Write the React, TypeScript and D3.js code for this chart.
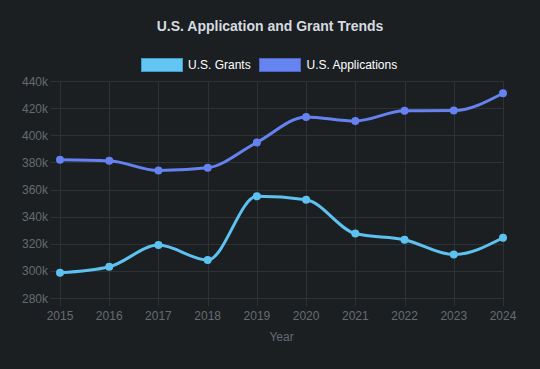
import * as d3 from "d3";

// data
const years = ["2015", "2016", "2017", "2018", "2019", "2020", "2021", "2022", "2023", "2024"];
const grants = [298.6, 303, 319, 308, 355, 352.5, 327.5, 323, 312, 324.4];
const applications = [382, 381.2, 374, 376, 394.7, 413.5, 410.5, 418, 418.2, 431];
const yTicks = [280, 300, 320, 340, 360, 380, 400, 420, 440];

const series = [
  { label: "U.S. Grants", values: grants, color: "#5ec2f0", fill: "#63c6f2", border: "#3f9ccb" },
  { label: "U.S. Applications", values: applications, color: "#6582f0", fill: "#6684f0", border: "#4a66c8" },
];

const W = 540;
const H = 369;
const margin = { top: 81, right: 37, bottom: 71, left: 60 };
const font = '"Helvetica Neue", Helvetica, Arial, sans-serif';

const App = () => {
  const x = d3
    .scalePoint()
    .domain(years)
    .range([margin.left, W - margin.right]);
  const y = d3
    .scaleLinear()
    .domain([280, 440])
    .range([H - margin.bottom, margin.top]);

  // monotone cubic, like chart.js cubicInterpolationMode: 'monotone'
  const line = d3
    .line<number>()
    .x((_, i) => x(years[i]) as number)
    .y((d) => y(d))
    .curve(d3.curveMonotoneX);

  const bottom = H - margin.bottom;

  return (
    <svg
      width={W}
      height={H}
      style={{ position: "absolute", left: 0, top: 0, background: "#1b1f22" }}
      fontFamily={font}
    >
      <rect width={W} height={H} fill="#1b1f22" />
      <text x={270} y={30.5} textAnchor="middle" fontSize={14} fontWeight="bold" fill="#d6dbe0">
        U.S. Application and Grant Trends
      </text>

      {/* legend */}
      <g fontSize={12} fill="#ffffff">
        <rect x={141.5} y={58.5} width={41} height={13} fill={series[0].fill} stroke={series[0].border} />
        <text x={188} y={68.5}>{series[0].label}</text>
        <rect x={259.5} y={58.5} width={41} height={13} fill={series[1].fill} stroke={series[1].border} />
        <text x={306.5} y={68.5}>{series[1].label}</text>
      </g>

      {/* grid */}
      <g stroke="#2d3237" strokeWidth={1}>
        {yTicks.map((t) => (
          <line key={t} x1={margin.left - 9} x2={W - margin.right} y1={Math.round(y(t)) + 0.5} y2={Math.round(y(t)) + 0.5} />
        ))}
        {years.map((yr) => (
          <line key={yr} x1={Math.round(x(yr) as number) + 0.5} x2={Math.round(x(yr) as number) + 0.5} y1={margin.top} y2={bottom + 8} />
        ))}
      </g>

      {/* y ticks */}
      <g fontSize={12} fill="#666b70" textAnchor="end">
        {yTicks.map((t) => (
          <text key={t} x={48} y={y(t) + 4.5}>{t}k</text>
        ))}
      </g>

      {/* x ticks */}
      <g fontSize={12} fill="#666b70" textAnchor="middle">
        {years.map((yr) => (
          <text key={yr} x={x(yr) as number} y={320}>{yr}</text>
        ))}
        <text x={(margin.left + W - margin.right) / 2} y={341}>Year</text>
      </g>

      {/* lines */}
      {series.map((s) => (
        <g key={s.label}>
          <path d={line(s.values) as string} fill="none" stroke={s.color} strokeWidth={3} />
          {s.values.map((v, i) => (
            <circle key={i} cx={x(years[i]) as number} cy={y(v)} r={4} fill={s.color} />
          ))}
        </g>
      ))}
    </svg>
  );
};

export default App;
